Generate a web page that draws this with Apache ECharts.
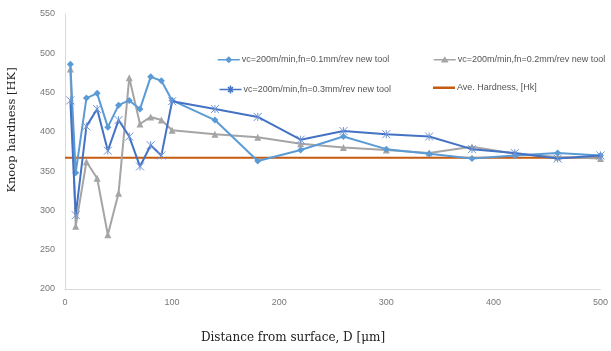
<!DOCTYPE html>
<html>
<head>
<meta charset="utf-8">
<script src="https://cdn.jsdelivr.net/npm/echarts@6/dist/echarts.min.js"></script>
<style>
  html, body { margin: 0; padding: 0; background: #fff; }
  #chart { width: 611px; height: 351px; }
</style>
</head>
<body>
<div id="chart"></div>
<script>
var distance = [5, 10, 20, 30, 40, 50, 60, 70, 80, 90, 100, 140, 180, 220, 260, 300, 340, 380, 420, 460, 500];
var fn01 = [486, 348, 443, 449, 406, 434, 440, 429, 470, 465, 440, 415, 363, 377, 394, 378, 372, 366, 370, 373, 370];
var fn02 = [480, 280, 362, 341, 269, 322, 469, 410, 419, 415, 402, 397, 393, 385, 380, 377, 373, 381, 372, 368, 366];
var fn03 = [440, 294, 407, 429, 376, 415, 394, 356, 383, 370, 439, 429, 419, 390, 401, 397, 394, 378, 373, 366, 370];
var aveX = [0, 500];
var aveHardness = [367, 367];
var names = [
    'vc=200m/min,fn=0.1mm/rev new tool',
    'vc=200m/min,fn=0.2mm/rev new tool',
    'vc=200m/min,fn=0.3mm/rev new tool',
    'Ave. Hardness, [Hk]'
];

function pairs(xs, ys) {
    return xs.map(function (x, i) { return [x, ys[i]]; });
}

var asterisk = 'path://M0,0L10,10M10,0L0,10M5,0L5,10';

var myChart = echarts.init(document.getElementById('chart'));

// one legend per entry so the 2 x 2 layout sits where the reference has it
function legendAt(name, left, top, icon, style) {
    return {
        data: [{ name: name, icon: icon, itemStyle: style }],
        left: left,
        top: top,
        padding: 0,
        itemWidth: 22,
        itemHeight: 8,
        itemGap: 3,
        textStyle: { fontSize: 9, color: '#555', fontFamily: 'Liberation Sans', padding: [0, 0, 0, -3] }
    };
}

var option = {
    animation: false,
    backgroundColor: '#fff',
    grid: { left: 65, right: 10, top: 14, bottom: 62 },
    legend: [
        legendAt(names[0], 217, 55, 'path://M0,1M0,5L22,5M11,2.5L13.5,5L11,7.5L8.5,5ZM22,9',
            { color: '#5b9bd5', borderColor: '#5b9bd5', borderWidth: 1.5 }),
        legendAt(names[1], 433, 55, 'path://M0,1M0,5L22,5M11,3L13.5,7L8.5,7ZM22,9',
            { color: '#a5a5a5', borderColor: '#a5a5a5', borderWidth: 1.5 }),
        legendAt(names[2], 217, 83, 'path://M0,5L22,5M8.5,2.5L13.5,7.5M13.5,2.5L8.5,7.5M11,1L11,9',
            { color: 'none', borderColor: '#4472c4', borderWidth: 1.5 }),
        legendAt(names[3], 433, 83, 'path://M0,4L22,4L22,6.5L0,6.5ZM0,1M22,9',
            { color: '#c55a11', borderWidth: 0 })
    ],
    xAxis: {
        type: 'value',
        min: 0,
        max: 500,
        interval: 100,
        axisLine: { show: true, lineStyle: { color: '#d9d9d9' } },
        axisTick: { show: false },
        splitLine: { show: false },
        axisLabel: { color: '#777', fontSize: 9, margin: 9, fontFamily: 'Liberation Sans' }
    },
    yAxis: {
        type: 'value',
        min: 200,
        max: 550,
        interval: 50,
        axisLine: { show: true, lineStyle: { color: '#d9d9d9' } },
        axisTick: { show: false },
        splitLine: { show: false },
        axisLabel: { color: '#777', fontSize: 9, margin: 10, fontFamily: 'Liberation Sans' }
    },
    graphic: [
        {
            type: 'text',
            x: 12, y: 130,
            rotation: Math.PI / 2,
            style: {
                text: 'Knoop hardness [HK]',
                font: '11.5px "DejaVu Serif"',
                fill: '#222',
                align: 'center',
                verticalAlign: 'middle'
            }
        },
        {
            type: 'text',
            x: 293, y: 338,
            style: {
                text: 'Distance from surface, D [μm]',
                font: '12px "DejaVu Serif"',
                fill: '#222',
                align: 'center',
                verticalAlign: 'middle'
            }
        }
    ],
    series: [
        {
            name: names[3],
            type: 'line',
            data: pairs(aveX, aveHardness),
            symbol: 'none',
            lineStyle: { color: '#c55a11', width: 2 },
            itemStyle: { color: '#c55a11' },
            z: 1
        },
        {
            name: names[1],
            type: 'line',
            data: pairs(distance, fn02),
            symbol: 'triangle',
            symbolSize: 7,
            lineStyle: { color: '#a5a5a5', width: 2 },
            itemStyle: { color: '#a5a5a5' },
            z: 2
        },
        {
            name: names[0],
            type: 'line',
            data: pairs(distance, fn01),
            symbol: 'diamond',
            symbolSize: 7,
            lineStyle: { color: '#5b9bd5', width: 2 },
            itemStyle: { color: '#5b9bd5' },
            z: 3
        },
        {
            name: names[2],
            type: 'line',
            data: pairs(distance, fn03),
            symbol: asterisk,
            symbolSize: 8,
            lineStyle: { color: '#4472c4', width: 2 },
            itemStyle: { color: 'none', borderColor: '#6d94d6', borderWidth: 1 },
            z: 4
        }
    ]
};
myChart.setOption(option);
window.onresize = myChart.resize;
</script>
</body>
</html>
